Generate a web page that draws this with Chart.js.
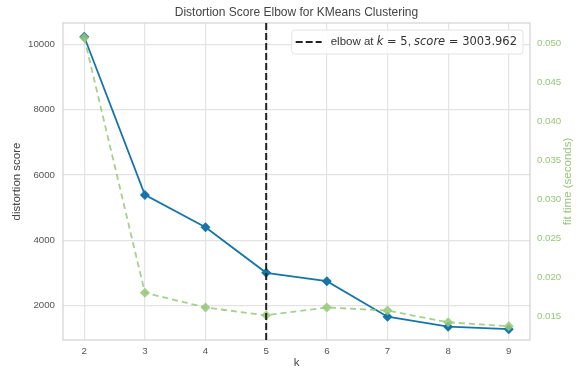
<!DOCTYPE html>
<html>
<head>
<meta charset="utf-8">
<script src="https://cdn.jsdelivr.net/npm/chart.js@4.4.1/dist/chart.umd.min.js"></script>
<style>
  html, body { margin: 0; padding: 0; background: #fff; }
  #wrap { width: 576px; height: 372px; }
</style>
</head>
<body>
<div id="wrap"><canvas id="elbow" width="576" height="372"></canvas></div>
<script>
  // values
  var kValues = [2, 3, 4, 5, 6, 7, 8, 9];
  var distortion = [10230, 5390, 4400, 3004, 2750, 1660, 1355, 1280];
  var fitTime = [0.0507, 0.0180, 0.0161, 0.0151, 0.0161, 0.0157, 0.0142, 0.0137];
  var scoreTicks = [2000, 4000, 6000, 8000, 10000];
  var timeTicks = [0.015, 0.020, 0.025, 0.030, 0.035, 0.040, 0.045, 0.050];
  var elbowK = 5;
  var elbowScore = '3003.962';

  var BLUE = '#1675a8';
  var GREEN = 'rgba(150, 200, 120, 0.85)';
  var GREEN_TXT = '#97c57a';
  var GRID = '#e3e3e3';
  var SANS = "'Liberation Sans', Arial, sans-serif";
  var MATH = "'DejaVu Sans', sans-serif";

  function pts(ys) {
    return kValues.map(function (k, i) { return { x: k, y: ys[i] }; });
  }

  function keepTicks(list) {
    return function (scale) {
      scale.ticks = list.map(function (v) { return { value: v }; });
    };
  }

  var decor = {
    id: 'decor',
    beforeDatasetsDraw: function (chart) {
      var a = chart.chartArea, c = chart.ctx;
      c.save();
      c.strokeStyle = '#d2d2d2';
      c.lineWidth = 1.2;
      c.strokeRect(a.left, a.top, a.right - a.left, a.bottom - a.top);
      c.restore();
    },
    afterDatasetsDraw: function (chart) {
      var a = chart.chartArea, c = chart.ctx;
      var x = chart.scales.x.getPixelForValue(elbowK);
      c.save();
      // elbow line
      c.strokeStyle = '#222';
      c.lineWidth = 2;
      c.setLineDash([7, 3]);
      c.beginPath();
      c.moveTo(x, a.top);
      c.lineTo(x, a.bottom);
      c.stroke();
      c.setLineDash([]);

      // title centred over the axes
      c.fillStyle = '#444';
      c.font = '12px ' + SANS;
      c.textAlign = 'center';
      c.textBaseline = 'middle';
      c.fillText('Distortion Score Elbow for KMeans Clustering', (a.left + a.right) / 2, 13);

      // right axis label, reads bottom to top like matplotlib
      c.save();
      c.translate(568, (a.top + a.bottom) / 2);
      c.rotate(-Math.PI / 2);
      c.fillStyle = GREEN_TXT;
      c.font = '11.5px ' + SANS;
      c.fillText('fit time (seconds)', 0, 0);
      c.restore();

      // legend with mathtext-like pieces
      var parts = [
        { t: 'elbow at ', f: '11.5px ' + SANS },
        { t: 'k', f: 'italic 11.5px ' + MATH },
        { t: ' = 5', f: '11.5px ' + MATH },
        { t: ', ', f: '11.5px ' + SANS },
        { t: 'score', f: 'italic 11.5px ' + MATH },
        { t: ' = ' + elbowScore, f: '11.5px ' + MATH }
      ];
      var tw = 0;
      parts.forEach(function (p) { c.font = p.f; p.w = c.measureText(p.t).width; tw += p.w; });
      var boxR = a.right - 7, boxT = a.top + 7, boxH = 24;
      var boxW = tw + 4 + 26 + 9 + 6;
      var boxL = boxR - boxW;
      c.fillStyle = 'rgba(255,255,255,0.85)';
      c.strokeStyle = '#e4e4e4';
      c.lineWidth = 1;
      c.beginPath();
      c.roundRect(boxL, boxT, boxW, boxH, 3);
      c.fill();
      c.stroke();
      var cy = boxT + boxH / 2;
      c.strokeStyle = '#222';
      c.lineWidth = 2;
      c.setLineDash([7, 3]);
      c.beginPath();
      c.moveTo(boxL + 4, cy);
      c.lineTo(boxL + 30, cy);
      c.stroke();
      c.setLineDash([]);
      c.fillStyle = '#333';
      c.textAlign = 'left';
      var tx = boxL + 39;
      parts.forEach(function (p) { c.font = p.f; c.fillText(p.t, tx, cy); tx += p.w; });
      c.restore();
    }
  };

  new Chart(document.getElementById('elbow'), {
    type: 'line',
    data: {
      datasets: [
        {
          label: 'distortion',
          data: pts(distortion),
          yAxisID: 'y',
          borderColor: BLUE,
          backgroundColor: BLUE,
          borderWidth: 1.8,
          pointStyle: 'rectRot',
          pointRadius: 5,
          pointBorderWidth: 0,
          tension: 0,
          order: 2
        },
        {
          label: 'fit time',
          data: pts(fitTime),
          yAxisID: 'y2',
          borderColor: GREEN,
          backgroundColor: GREEN,
          borderWidth: 1.8,
          borderDash: [6, 4],
          pointStyle: 'rectRot',
          pointRadius: 5,
          pointBorderWidth: 0,
          tension: 0,
          order: 1
        }
      ]
    },
    options: {
      responsive: false,
      animation: false,
      events: [],
      layout: { padding: { top: 23, left: 0, right: 0, bottom: 0 } },
      plugins: { legend: { display: false }, title: { display: false }, tooltip: { enabled: false } },
      scales: {
        x: {
          type: 'linear',
          min: 1.65,
          max: 9.35,
          afterBuildTicks: keepTicks(kValues),
          afterFit: function (s) { s.height = 32; },
          grid: { color: GRID, lineWidth: 1.2, drawTicks: false },
          border: { display: false },
          ticks: { color: '#555', font: { family: SANS, size: 9.7 }, padding: 6, callback: function (v) { return String(v); } },
          title: { display: true, text: 'k', color: '#444', font: { family: SANS, size: 11.5 }, padding: { top: 0, bottom: 2 } }
        },
        y: {
          position: 'left',
          min: 948,
          max: 10651,
          afterBuildTicks: keepTicks(scoreTicks),
          afterFit: function (s) { s.width = 63; },
          grid: { color: GRID, lineWidth: 1.2, drawTicks: false },
          border: { display: false },
          ticks: { color: '#555', font: { family: SANS, size: 9.7 }, padding: 8, callback: function (v) { return String(v); } },
          title: { display: true, text: 'distortion score', color: '#444', font: { family: SANS, size: 11.5 }, padding: { top: 10, bottom: 0 } }
        },
        y2: {
          position: 'right',
          min: 0.01193,
          max: 0.0526,
          afterBuildTicks: keepTicks(timeTicks),
          afterFit: function (s) { s.width = 46; },
          grid: { display: false, drawTicks: false },
          border: { display: false },
          ticks: {
            color: GREEN_TXT,
            font: { family: SANS, size: 9.7 },
            padding: 7,
            callback: function (v) { return v.toFixed(3); }
          },
          title: { display: false }
        }
      }
    },
    plugins: [decor]
  });
</script>
</body>
</html>
